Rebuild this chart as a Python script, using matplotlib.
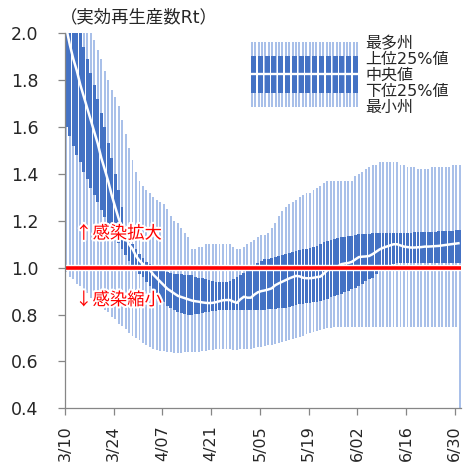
import numpy as np
import matplotlib
matplotlib.use('Agg')
import matplotlib.pyplot as plt
import matplotlib.patheffects as pe

plt.rcParams['font.family'] = ['DejaVu Sans', 'Noto Sans CJK JP']

# daily values, 3/10 .. 7/01
max_vals = [2.10, 2.10, 2.10, 2.10, 2.10, 2.08, 2.05, 2.02, 1.97, 1.93,
            1.89, 1.84, 1.80, 1.76, 1.73, 1.69, 1.63, 1.57, 1.51, 1.46,
            1.41, 1.37, 1.35, 1.33, 1.32, 1.30, 1.29, 1.28, 1.27, 1.25,
            1.22, 1.20, 1.19, 1.17, 1.15, 1.13, 1.08, 1.08, 1.09, 1.09,
            1.10, 1.10, 1.10, 1.10, 1.10, 1.10, 1.10, 1.10, 1.09, 1.08,
            1.08, 1.09, 1.10, 1.11, 1.12, 1.13, 1.14, 1.14, 1.15, 1.17,
            1.19, 1.22, 1.24, 1.26, 1.27, 1.28, 1.29, 1.30, 1.31, 1.32,
            1.32, 1.33, 1.34, 1.35, 1.36, 1.37, 1.37, 1.37, 1.37, 1.37,
            1.37, 1.37, 1.37, 1.39, 1.40, 1.41, 1.42, 1.43, 1.44, 1.44,
            1.45, 1.45, 1.45, 1.45, 1.45, 1.45, 1.44, 1.44, 1.43, 1.43,
            1.43, 1.42, 1.42, 1.42, 1.42, 1.43, 1.43, 1.43, 1.43, 1.43,
            1.43, 1.44, 1.44, 1.44]

p75_vals = [2.25, 2.18, 2.12, 2.06, 2.00, 1.94, 1.89, 1.83, 1.78, 1.72,
            1.66, 1.60, 1.53, 1.47, 1.40, 1.33, 1.26, 1.18, 1.13, 1.10,
            1.08, 1.06, 1.04, 1.025, 1.015, 1.005, 1.00, 0.99, 0.985, 0.98,
            0.977, 0.975, 0.973, 0.972, 0.97, 0.97, 0.968, 0.962, 0.957, 0.955,
            0.952, 0.948, 0.944, 0.94, 0.938, 0.938, 0.94, 0.945, 0.952, 0.96,
            0.968, 0.978, 0.988, 0.998, 1.01, 1.018, 1.027, 1.035, 1.038, 1.042,
            1.045, 1.05, 1.056, 1.06, 1.064, 1.068, 1.071, 1.075, 1.078, 1.08,
            1.085, 1.089, 1.092, 1.10, 1.108, 1.115, 1.119, 1.122, 1.126, 1.129,
            1.131, 1.134, 1.137, 1.139, 1.142, 1.143, 1.144, 1.145, 1.146, 1.147,
            1.147, 1.148, 1.148, 1.148, 1.149, 1.149, 1.15, 1.15, 1.15, 1.15,
            1.151, 1.151, 1.152, 1.152, 1.153, 1.153, 1.154, 1.155, 1.156, 1.157,
            1.158, 1.158, 1.159, 1.16]

median_vals = [2.02, 1.95, 1.89, 1.84, 1.78, 1.73, 1.68, 1.63, 1.58, 1.53,
               1.47, 1.42, 1.37, 1.31, 1.26, 1.21, 1.17, 1.13, 1.10, 1.08,
               1.05, 1.03, 1.015, 1.00, 0.99, 0.97, 0.955, 0.94, 0.925, 0.91,
               0.90, 0.89, 0.88, 0.875, 0.87, 0.865, 0.86, 0.857, 0.855, 0.852,
               0.85, 0.849, 0.85, 0.853, 0.857, 0.861, 0.862, 0.862, 0.855, 0.85,
               0.865, 0.876, 0.872, 0.872, 0.885, 0.895, 0.90, 0.903, 0.907, 0.912,
               0.925, 0.933, 0.94, 0.947, 0.954, 0.96, 0.965, 0.963, 0.957, 0.955,
               0.955, 0.957, 0.96, 0.962, 0.975, 0.99, 0.995, 0.998, 1.005, 1.015,
               1.018, 1.02, 1.025, 1.035, 1.045, 1.047, 1.048, 1.05, 1.058, 1.068,
               1.078, 1.085, 1.09, 1.095, 1.10, 1.10, 1.095, 1.09, 1.088, 1.086,
               1.086, 1.087, 1.088, 1.09, 1.09, 1.091, 1.092, 1.093, 1.095, 1.097,
               1.099, 1.101, 1.103, 1.105]

p25_vals = [1.60, 1.56, 1.52, 1.48, 1.45, 1.41, 1.38, 1.34, 1.31, 1.28,
            1.245, 1.215, 1.185, 1.16, 1.135, 1.105, 1.08, 1.055, 1.03, 1.005,
            0.99, 0.975, 0.96, 0.94, 0.92, 0.90, 0.885, 0.868, 0.853, 0.838,
            0.828, 0.82, 0.813, 0.808, 0.804, 0.80, 0.80, 0.801, 0.804, 0.807,
            0.81, 0.813, 0.815, 0.817, 0.819, 0.82, 0.82, 0.82, 0.82, 0.82,
            0.82, 0.82, 0.82, 0.82, 0.82, 0.82, 0.82, 0.82, 0.822, 0.823,
            0.825, 0.826, 0.828, 0.83, 0.833, 0.837, 0.84, 0.843, 0.846, 0.849,
            0.851, 0.853, 0.855, 0.86, 0.864, 0.868, 0.873, 0.878, 0.882, 0.887,
            0.895, 0.902, 0.907, 0.912, 0.92, 0.93, 0.942, 0.95, 0.955, 0.973,
            0.985, 0.997, 1.005, 1.01, 1.015, 1.02, 1.02, 1.02, 1.02, 1.02,
            1.02, 1.02, 1.02, 1.02, 1.02, 1.02, 1.02, 1.02, 1.02, 1.02,
            1.02, 1.02, 1.02, 1.02]

min_vals = [0.98, 0.96, 0.95, 0.93, 0.92, 0.90, 0.89, 0.87, 0.86, 0.85,
            0.83, 0.82, 0.81, 0.79, 0.78, 0.76, 0.75, 0.74, 0.72, 0.71,
            0.70, 0.69, 0.68, 0.67, 0.66, 0.655, 0.65, 0.645, 0.643, 0.64,
            0.64, 0.638, 0.638, 0.638, 0.64, 0.64, 0.64, 0.64, 0.642, 0.644,
            0.645, 0.647, 0.65, 0.652, 0.654, 0.655, 0.655, 0.653, 0.65, 0.65,
            0.652, 0.653, 0.655, 0.655, 0.656, 0.66, 0.663, 0.666, 0.67, 0.672,
            0.676, 0.68, 0.684, 0.688, 0.692, 0.696, 0.70, 0.705, 0.71, 0.715,
            0.72, 0.726, 0.732, 0.736, 0.739, 0.742, 0.744, 0.745, 0.746, 0.747,
            0.748, 0.748, 0.748, 0.748, 0.748, 0.748, 0.748, 0.748, 0.748, 0.748,
            0.748, 0.748, 0.748, 0.748, 0.748, 0.748, 0.748, 0.748, 0.748, 0.748,
            0.748, 0.748, 0.748, 0.748, 0.748, 0.748, 0.748, 0.748, 0.748, 0.748,
            0.748, 0.748, 0.748, 0.0]

tick_labels = ['3/10', '3/24', '4/07', '4/21', '5/05', '5/19', '6/02', '6/16', '6/30']
legend_labels = ['最多州', '上位25%値', '中央値', '下位25%値', '最小州']

LIGHT = '#a9c0e9'
DARK = '#4472c4'
GRAY = '#868686'
TXT = '#262626'

n = len(max_vals)
x = np.arange(n)
lo = np.array(min_vals)
hi = np.array(max_vals)
q1 = np.array(p25_vals)
q3 = np.array(p75_vals)

fig = plt.figure(figsize=(4.68, 4.62), dpi=100)
ax = fig.add_axes([0.1389, 0.1162, 0.847, 0.8117])

ax.bar(x, hi - lo, bottom=lo, width=0.55, color=LIGHT, linewidth=0, zorder=1)
ax.bar(x, q3 - q1, bottom=q1, width=0.8, color=DARK, linewidth=0, zorder=2)
ax.plot(x, median_vals, color='white', lw=1.8, zorder=3, solid_capstyle='butt')
ax.axhline(1.0, color='white', lw=4.6, zorder=4)
ax.axhline(1.0, color='#ff0000', lw=2.6, zorder=5)

ax.set_xlim(-0.4, n - 0.5)
ax.set_ylim(0.4, 2.0)
ax.set_yticks(np.arange(0.4, 2.01, 0.2))
ax.set_yticklabels(['%.1f' % v for v in np.arange(0.4, 2.01, 0.2)])
ax.set_xticks(np.arange(0, n, 14)[:len(tick_labels)] - 0.4)
ax.set_xticklabels(tick_labels, rotation=90)

for s in ['top', 'right']:
    ax.spines[s].set_visible(False)
for s in ['left', 'bottom']:
    ax.spines[s].set_color(GRAY)
    ax.spines[s].set_linewidth(0.9)
    ax.spines[s].set_zorder(6)
ax.tick_params(axis='y', length=5, width=0.9, color=GRAY, pad=14, labelsize=12.5, labelcolor=TXT)
ax.tick_params(axis='x', length=5, width=0.9, color=GRAY, pad=7, labelsize=11.5, labelcolor=TXT)

halo = [pe.withStroke(linewidth=3, foreground='white')]
ax.text(2.5, 1.146, '↑感染拡大', color='#ff0000', fontsize=12.5, ha='left', va='center',
        family=['Noto Sans CJK JP', 'DejaVu Sans'], path_effects=halo, zorder=7)
ax.text(2.5, 0.862, '↓感染縮小', color='#ff0000', fontsize=12.5, ha='left', va='center',
        family=['Noto Sans CJK JP', 'DejaVu Sans'], path_effects=halo, zorder=7)

fig.text(60 / 468, 1 - 17.5 / 462, '（実効再生産数Rt）', fontsize=12.5, color=TXT,
         ha='left', va='center')

# legend swatch drawn as a tiny bar chart
lax = fig.add_axes([250 / 468, 1 - 107.3 / 462, 108 / 468, 65.6 / 462])
lx = np.arange(1.7, 108, 3.4)
lax.bar(lx, np.ones(len(lx)), width=2.0, color=LIGHT, linewidth=0)
dx = np.arange(3.4, 108, 6.8)
lax.bar(dx, np.full(len(dx), 0.56), bottom=0.222, width=5.0, color=DARK, linewidth=0)
lax.axhline(0.505, color='white', lw=1.7)
lax.set_xlim(0, 108)
lax.set_ylim(0, 1)
lax.axis('off')

for k, lab in enumerate(legend_labels):
    fig.text(365 / 468, 1 - (44 + 15.75 * k) / 462, lab, fontsize=11.5, color=TXT,
             ha='left', va='center')

fig.savefig('out.png', dpi=100)
